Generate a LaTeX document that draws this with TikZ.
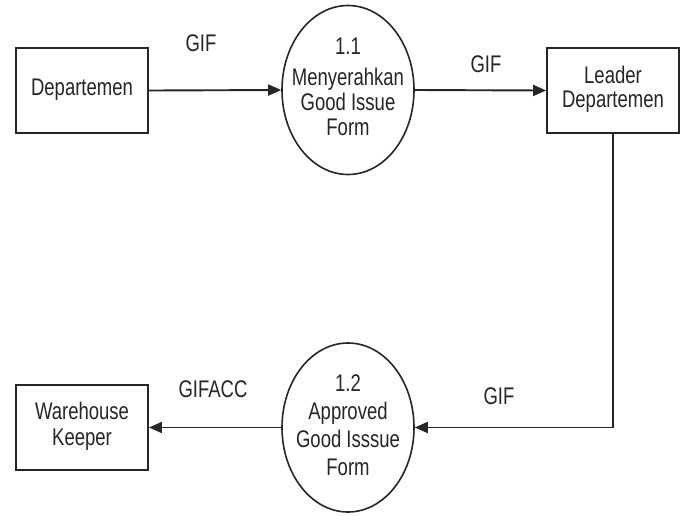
\documentclass[tikz,border=0pt]{standalone}
\usepackage{graphicx}
\usepackage{fontspec}
\setmainfont{Liberation Sans}
\usetikzlibrary{shapes.geometric,arrows.meta}
\definecolor{ink}{HTML}{262626}
\newcommand{\vtxt}[2]{\scalebox{1}[1.3]{\fontsize{18.5}{#1}\selectfont\begin{tabular}{@{}c@{}}#2\end{tabular}}}
\begin{document}
\begin{tikzpicture}[x=1pt,y=-1pt,
  ent/.style={draw=ink, rectangle, line width=1.9pt, minimum width=132pt, minimum height=85pt, inner sep=0pt, text=ink},
  proc/.style={draw=ink, ellipse, line width=1.6pt, minimum width=132pt, minimum height=169pt, inner sep=0pt, text=ink},
  flow/.style={draw=ink, line width=1.9pt, -{Triangle[length=13pt,width=11pt]}},
  lbl/.style={inner sep=0pt, text=ink}]
\useasboundingbox[fill=white] (0,0) rectangle (688,515);
\node[ent] (dep) at (82,90.5) {\vtxt{19}{Departemen}};
\node[proc] (p1) at (348,90) {\makebox[0pt]{\vtxt{19.2}{1.1\\[5pt]Menyerahkan\\Good Issue\\Form}}};
\node[ent] (lead) at (613,90.5) {\vtxt{19.2}{Leader\\Departemen}};
\node[proc] (p2) at (348,427.5) {\makebox[0pt]{\vtxt{21.5}{1.2\\Approved\\Good Isssue\\Form}}};
\node[ent] (wh) at (82,427.5) {\vtxt{20}{Warehouse\\Keeper}};
\node[lbl] (l1) at (201,46.5) {\vtxt{19}{GIF}};
\node[lbl] (l2) at (486,68) {\vtxt{19}{GIF}};
\node[lbl] (l3) at (499,400) {\vtxt{19}{GIF}};
\node[lbl] (l4) at (213,392.5) {\vtxt{19}{GIFACC}};
\draw[flow] (dep.east) -- (p1.west);
\draw[flow] (p1.east) -- (lead.west);
\draw[flow] (lead.south) |- (p2.east);
\draw[flow] (p2.west) -- (wh.east);
\end{tikzpicture}
\end{document}
